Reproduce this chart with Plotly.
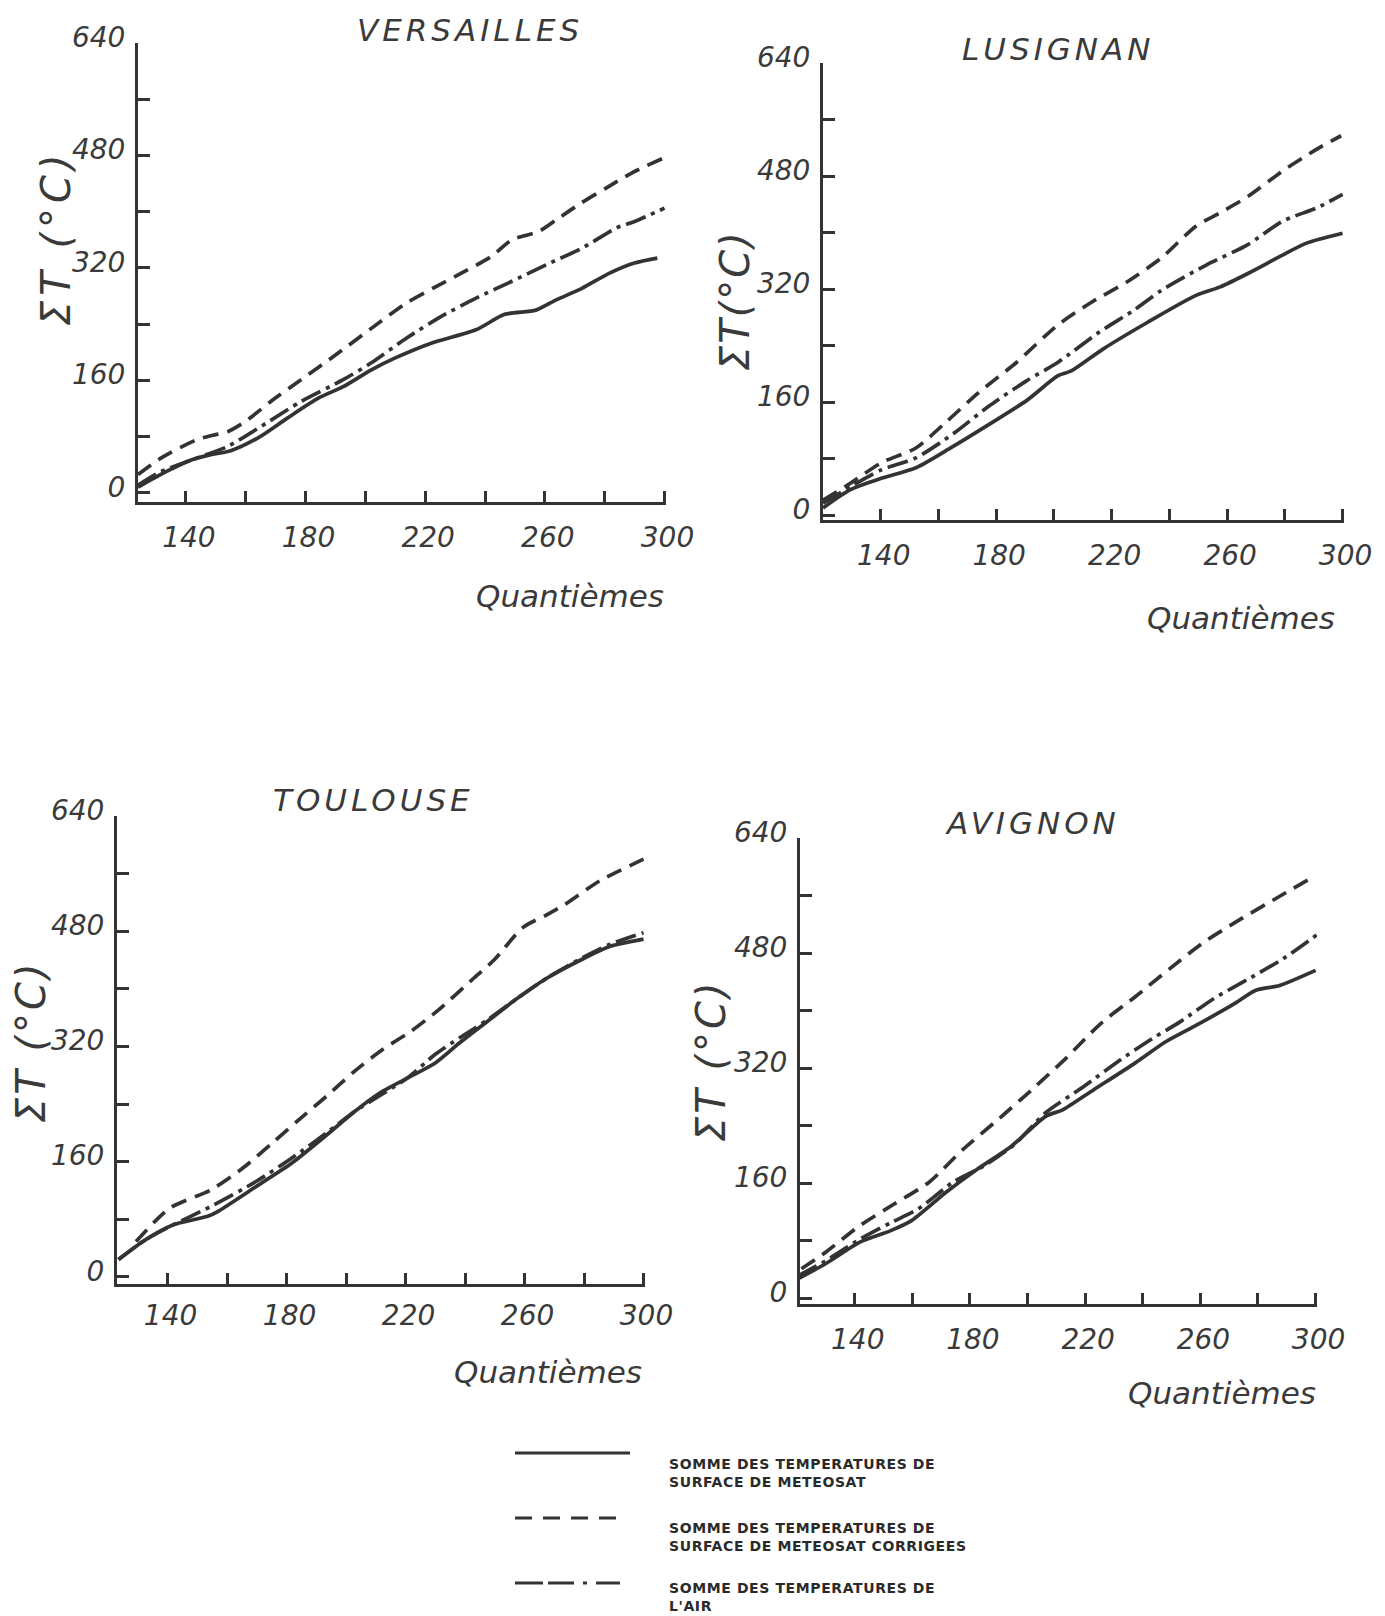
import plotly.graph_objects as go

W, H = 1385, 1616          # reference picture size
OFF = 8                    # page body margin of the html page
WF, HF = W - OFF, H - OFF  # figure size so that it fits the window exactly
INK = "#333333"
TXT = "#3a3a3a"

# ---------------- data (day of year vs cumulative temperature) ----------------
VER_SOL_X = [124, 131.5, 142, 148, 155, 164.4, 173.8, 184.4, 192.6, 202, 210, 222, 237, 246.6, 257, 264, 272.4, 281.8, 290, 297.6]
VER_SOL_Y = [8, 26, 47, 54, 60, 79, 106, 135, 151, 175, 192, 213, 232, 254, 260, 275, 291, 313, 327, 334]
VER_DAS_X = [124, 131.5, 143.3, 149, 154, 159.7, 169, 178.5, 190, 202, 213.7, 223, 231, 242, 249, 258, 264, 272, 280.6, 289, 300]
VER_DAS_Y = [26, 49, 75, 82, 87, 101, 132, 161, 196, 234, 270, 292, 310, 336, 360, 372, 389, 412, 434, 455, 477]
VER_AIR_X = [124, 131.5, 143.3, 154, 166.8, 178.5, 192.6, 202, 213.7, 225.4, 237, 249, 260.7, 272.4, 284, 290, 300]
VER_AIR_Y = [11, 30, 49, 66, 99, 130, 161, 185, 220, 251, 277, 301, 325, 348, 377, 386, 405]

LUS_SOL_X = [120, 129.5, 140.2, 152.2, 164.2, 177.4, 190.5, 201.3, 206, 217, 232.5, 249.2, 257.6, 267.2, 279.2, 287.5, 300]
LUS_SOL_Y = [10, 36, 52, 67, 95, 128, 162, 197, 204, 235, 273, 311, 323, 342, 368, 385, 399]
LUS_DAS_X = [120, 129.5, 140.2, 152.2, 163, 173.8, 187, 201.3, 213.3, 225.3, 237.2, 249.2, 257.6, 267.2, 279.2, 291.1, 299.5]
LUS_DAS_Y = [21, 45, 74, 95, 133, 173, 216, 269, 302, 330, 364, 409, 428, 451, 487, 518, 537]
LUS_AIR_X = [120, 129.5, 140.2, 152.2, 165.4, 177.4, 190.5, 201.3, 215.7, 227.7, 237.2, 252.8, 267.2, 279.2, 291.1, 300]
LUS_AIR_Y = [17, 40, 64, 81, 116, 154, 190, 216, 259, 290, 318, 354, 383, 416, 435, 454]

TOU_SOL_X = [123.5, 132.4, 141.8, 153.5, 157, 170, 181.8, 193.5, 203, 211.2, 220.6, 230, 238.2, 247.6, 257, 267.6, 279.4, 288.8, 300]
TOU_SOL_Y = [24, 51, 72, 84, 91, 126, 158, 197, 230, 255, 276, 297, 325, 355, 385, 415, 441, 459, 469]
TOU_DAS_X = [129.4, 140.6, 154.7, 165.3, 174.7, 184.1, 193.5, 203, 212.4, 221.8, 231.2, 243, 250, 259.4, 267.6, 273.5, 285.3, 300]
TOU_DAS_Y = [49, 95, 121, 151, 184, 218, 251, 286, 316, 341, 371, 415, 441, 485, 503, 517, 550, 580]
TOU_AIR_X = [123.5, 132.4, 141.8, 154.7, 170, 181.8, 193.5, 203, 220.6, 230, 238.2, 247.6, 257, 267.6, 279.4, 288.8, 300]
TOU_AIR_Y = [24, 51, 72, 98, 133, 165, 200, 230, 276, 309, 332, 357, 385, 415, 443, 462, 478]

AVI_SOL_X = [120.3, 129.9, 141.8, 152.5, 159.7, 171.6, 182.4, 194.3, 206.3, 212.2, 223, 237.3, 248.1, 258.8, 272, 279.1, 287.5, 300]
AVI_SOL_Y = [27, 48, 78, 94, 108, 147, 179, 211, 253, 262, 290, 327, 357, 380, 410, 428, 435, 456]
AVI_DAS_X = [121.5, 129.9, 141.8, 153.7, 165.7, 177.6, 189.6, 201.5, 213.4, 225.4, 237.3, 249.3, 261.2, 273.1, 285, 300]
AVI_DAS_Y = [41, 64, 101, 131, 161, 207, 248, 290, 334, 382, 419, 458, 495, 525, 553, 588]
AVI_AIR_X = [120.3, 129.9, 141.8, 152.5, 162, 174, 184.8, 195.5, 206.3, 219.4, 231.3, 243.3, 252.8, 264.8, 276.7, 288.7, 301]
AVI_AIR_Y = [31, 52, 82, 105, 124, 161, 184, 214, 258, 294, 329, 361, 384, 417, 444, 472, 507]

STATIONS = ["VERSAILLES", "LUSIGNAN", "TOULOUSE", "AVIGNON"]
Y_TICKS = [0, 80, 160, 240, 320, 400, 480, 560, 640]
Y_TICK_TEXT = ["0", "", "160", "", "320", "", "480", "", "640"]
X_TICKS = [140, 160, 180, 200, 220, 240, 260, 280, 300]
X_TICK_TEXT = ["140", "", "180", "", "220", "", "260", "", "300"]
X_TITLE = "Quantièmes"
Y_TITLES = ["ΣT (°C)", "ΣT(°C)", "ΣT (°C)", "ΣT (°C)"]
LEGEND_TEXT = [
    ["SOMME DES TEMPERATURES DE", "SURFACE DE METEOSAT"],
    ["SOMME DES TEMPERATURES DE", "SURFACE DE METEOSAT CORRIGEES"],
    ["SOMME DES TEMPERATURES DE", "L'AIR"],
]

SERIES = [
    [(VER_SOL_X, VER_SOL_Y), (VER_DAS_X, VER_DAS_Y), (VER_AIR_X, VER_AIR_Y)],
    [(LUS_SOL_X, LUS_SOL_Y), (LUS_DAS_X, LUS_DAS_Y), (LUS_AIR_X, LUS_AIR_Y)],
    [(TOU_SOL_X, TOU_SOL_Y), (TOU_DAS_X, TOU_DAS_Y), (TOU_AIR_X, TOU_AIR_Y)],
    [(AVI_SOL_X, AVI_SOL_Y), (AVI_DAS_X, AVI_DAS_Y), (AVI_AIR_X, AVI_AIR_Y)],
]

# ---------------- layout geometry (pixels in the reference) ----------------
# (x_left_px, x_right_px, x_min, y_bottom_px, y_top_px, y_min)
PANELS = [
    (138, 666, 124, 502, 43, -13),
    (823, 1344, 120, 520, 63, -7),
    (117, 645, 123, 1284, 816, -10),
    (800, 1317, 121, 1304, 838, -8),
]
X_LABEL_STANDOFF = [8, 8, 4, 8]
TITLE_POS = [(470, 30), (1058, 49), (373, 800), (1032, 823)]
XTITLE_POS = [(570, 596), (1241, 618), (548, 1372), (1222, 1393)]
YTITLE_POS = [(56, 238), (735, 301), (31, 1042), (711, 1061)]
YTITLE_SPACING = [5, 2, 3, 3]

DASHES = ["solid", "16px,9px", "21px,6px,4px,6px"]


def fx(px):
    return (px - OFF) / WF


def fy(py):
    return 1 - (py - OFF) / HF


def spaced(text, px):
    return '<span style="letter-spacing:%spx">%s</span>' % (px, text)


fig = go.Figure()
layout = dict(
    width=WF, height=HF, autosize=False,
    margin=dict(l=0, r=0, t=0, b=0, pad=0, autoexpand=False),
    paper_bgcolor="white", plot_bgcolor="white",
    showlegend=False,
    annotations=[], shapes=[],
)

for i, (xl, xr, xmin, yb, yt, ymin) in enumerate(PANELS):
    n = "" if i == 0 else str(i + 1)
    xa, ya = "x" + n, "y" + n
    for (sx, sy), dash in zip(SERIES[i], DASHES):
        fig.add_trace(go.Scatter(
            x=sx, y=sy, xaxis=xa, yaxis=ya, mode="lines",
            line=dict(color=INK, width=3.7, dash=dash, shape="spline", smoothing=0.7),
            hoverinfo="skip",
        ))
    tickfont = dict(family="DejaVu Sans", size=28, color=TXT, style="italic")
    layout["xaxis" + n] = dict(
        domain=[fx(xl), fx(xr)], range=[xmin, 300.5], anchor=ya, automargin=False,
        showgrid=False, zeroline=False, showline=True, linecolor=INK, linewidth=3,
        ticks="inside", ticklen=11, tickwidth=2.5, tickcolor=INK,
        tickvals=X_TICKS, ticktext=X_TICK_TEXT, tickfont=tickfont,
        ticklabelstandoff=X_LABEL_STANDOFF[i], ticklabelshift=3,
    )
    layout["yaxis" + n] = dict(
        domain=[fy(yb), fy(yt)], range=[ymin, 640], anchor=xa, automargin=False,
        showgrid=False, zeroline=False, showline=True, linecolor=INK, linewidth=3,
        ticks="inside", ticklen=12, tickwidth=2.5, tickcolor=INK,
        tickvals=Y_TICKS, ticktext=Y_TICK_TEXT, tickfont=tickfont,
        ticklabelstandoff=4, ticklabelshift=-6,
    )
    tx, ty = TITLE_POS[i]
    layout["annotations"].append(dict(
        text=spaced(STATIONS[i], 4),
        x=fx(tx), y=fy(ty), xref="paper", yref="paper", showarrow=False,
        xanchor="center", yanchor="middle",
        font=dict(family="DejaVu Sans", size=31, color=TXT, style="italic"),
    ))
    qx, qy = XTITLE_POS[i]
    layout["annotations"].append(dict(
        text=X_TITLE, x=fx(qx), y=fy(qy), xref="paper", yref="paper", showarrow=False,
        xanchor="center", yanchor="middle",
        font=dict(family="DejaVu Sans", size=31, color=TXT, style="italic"),
    ))
    yx, yy = YTITLE_POS[i]
    layout["annotations"].append(dict(
        text=spaced(Y_TITLES[i], YTITLE_SPACING[i]),
        x=fx(yx), y=fy(yy), xref="paper", yref="paper", showarrow=False,
        xanchor="center", yanchor="middle", textangle=-90,
        font=dict(family="DejaVu Sans", size=40, color=TXT, style="italic"),
    ))

# ---------------- legend ----------------
LEG_LINE_Y = [1453, 1518, 1583]
LEG_LINE_X = [(515, 630), (515, 620), (515, 620)]
LEG_TEXT_Y = [1473, 1537, 1597]
LEG_DASHES = ["solid", "17px,11px", "28px,5px,26px,9px,4px,9px"]
for k in range(3):
    x0, x1 = LEG_LINE_X[k]
    layout["shapes"].append(dict(
        type="line", xref="paper", yref="paper",
        x0=fx(x0), x1=fx(x1), y0=fy(LEG_LINE_Y[k]), y1=fy(LEG_LINE_Y[k]),
        line=dict(color=INK, width=3, dash=LEG_DASHES[k]),
    ))
    layout["annotations"].append(dict(
        text="<br>".join(spaced(t, 0.6) for t in LEGEND_TEXT[k]),
        x=fx(667), y=fy(LEG_TEXT_Y[k]), xref="paper", yref="paper",
        showarrow=False, xanchor="left", yanchor="middle", align="left",
        font=dict(family="DejaVu Sans", size=14, color="#2a2a2a", weight="bold"),
    ))

fig.update_layout(**layout)
fig.write_html("out.html")
